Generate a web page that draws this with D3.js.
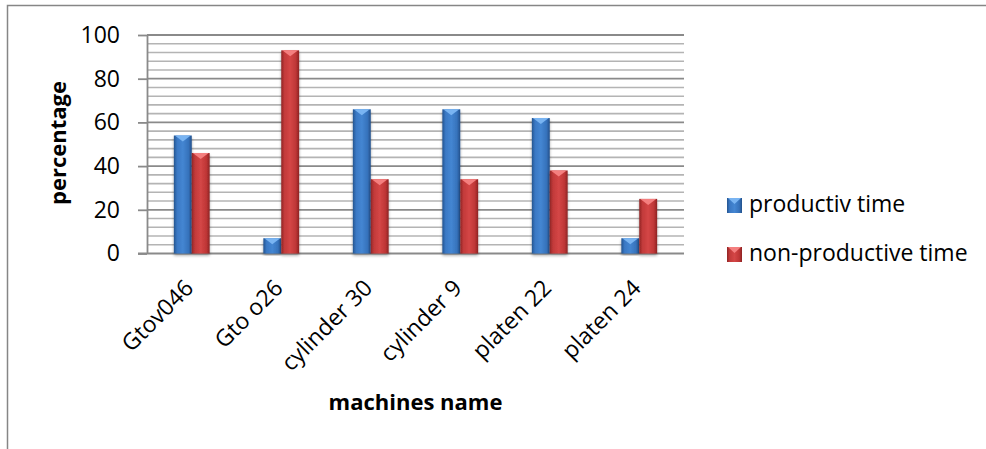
<!DOCTYPE html>
<html>
<head>
<meta charset="utf-8">
<script src="https://cdnjs.cloudflare.com/ajax/libs/d3/7.8.5/d3.min.js"></script>
<style>
  html, body { margin: 0; padding: 0; background: #fff; }
  svg { display: block; font-family: "Open Sans", "DejaVu Sans", sans-serif; }
</style>
</head>
<body>
<svg id="chart" width="986" height="449"></svg>
<script>
// Machine names along the x axis
const categories = ["Gtov046", "Gto o26", "cylinder 30", "cylinder 9", "platen 22", "platen 24"];
// Share of time per machine, in percent
const productiveTime = [54, 7, 66, 66, 62, 7];
const nonProductiveTime = [46, 93, 34, 34, 38, 25];
const seriesNames = ["productiv time", "non-productive time"];
const yTicks = [0, 20, 40, 60, 80, 100];

const svg = d3.select("#chart");
const W = 986, H = 449;
const plot = { left: 147, right: 684, top: 35, bottom: 253.5 };
const FONT = 23;      // tick, category and legend text
const TITLE_FONT = 22; // bold axis titles

// Gradients for the bevelled bar look
const defs = svg.append("defs");
const palettes = [
  { id: "blueBar", stops: ["#24548f", "#3a78c4", "#4486d2", "#3672bb", "#22508a"], cap: "#79b4f2" },
  { id: "redBar", stops: ["#902424", "#c23a3a", "#d44646", "#be3636", "#8c2222"], cap: "#f47f7f" }
];
palettes.forEach(p => {
  const g = defs.append("linearGradient").attr("id", p.id).attr("x1", 0).attr("x2", 1).attr("y1", 0).attr("y2", 0);
  const offs = [0, 0.18, 0.5, 0.82, 1];
  p.stops.forEach((c, i) => g.append("stop").attr("offset", offs[i]).attr("stop-color", c));
});
const shadow = defs.append("filter").attr("id", "barShadow").attr("x", "-20%").attr("y", "-5%").attr("width", "140%").attr("height", "115%");
shadow.append("feGaussianBlur").attr("in", "SourceAlpha").attr("stdDeviation", 1.6).attr("result", "b");
shadow.append("feOffset").attr("in", "b").attr("dx", 0).attr("dy", 2).attr("result", "o");
shadow.append("feComponentTransfer").attr("in", "o").attr("result", "s")
  .append("feFuncA").attr("type", "linear").attr("slope", 0.35);
const merge = shadow.append("feMerge");
merge.append("feMergeNode").attr("in", "s");
merge.append("feMergeNode").attr("in", "SourceGraphic");

// Outer chart frame (top and left edges)
svg.append("path")
  .attr("d", `M7.5,${H} V5.5 H${W}`)
  .attr("fill", "none").attr("stroke", "#868686").attr("stroke-width", 1.5);

// Scales
const x0 = d3.scaleBand().domain(categories).range([plot.left, plot.right]).paddingInner(0.6).paddingOuter(0.3);
const x1 = d3.scaleBand().domain([0, 1]).range([0, x0.bandwidth()]);
const y = d3.scaleLinear().domain([0, 100]).range([plot.bottom, plot.top]);

// Minor gridlines every 4 units
const minor = d3.range(4, 100, 4).filter(v => v % 20 !== 0);
svg.append("g").selectAll("line").data(minor).join("line")
  .attr("x1", plot.left).attr("x2", plot.right)
  .attr("y1", d => y(d)).attr("y2", d => y(d))
  .attr("stroke", "#b4b4b4").attr("stroke-width", 1.6);

// Major gridlines
svg.append("g").selectAll("line").data(yTicks.filter(v => v > 0)).join("line")
  .attr("x1", plot.left).attr("x2", plot.right)
  .attr("y1", d => y(d)).attr("y2", d => y(d))
  .attr("stroke", "#8a8a8a").attr("stroke-width", 1.8);

// Y axis
const yAxis = svg.append("g").attr("transform", `translate(${plot.left},0)`)
  .call(d3.axisLeft(y).tickValues(yTicks).tickSize(9).tickSizeOuter(0).tickPadding(18));
yAxis.select(".domain").attr("stroke", "#8a8a8a").attr("stroke-width", 1.8);
yAxis.selectAll(".tick line").attr("stroke", "#8a8a8a").attr("stroke-width", 1.8);
yAxis.selectAll(".tick text").attr("font-size", FONT).attr("fill", "#000")
  .attr("font-family", "'Open Sans', sans-serif");

// X axis baseline
svg.append("line")
  .attr("x1", plot.left - 9).attr("x2", plot.right)
  .attr("y1", plot.bottom).attr("y2", plot.bottom)
  .attr("stroke", "#8a8a8a").attr("stroke-width", 1.8);

// Bars
const rows = categories.map((c, i) => ({ c, vals: [productiveTime[i], nonProductiveTime[i]] }));
const groups = svg.append("g").selectAll("g").data(rows).join("g")
  .attr("transform", d => `translate(${x0(d.c)},0)`);

const bars = groups.selectAll("g.bar").data(d => d.vals.map((v, k) => ({ v, k }))).join("g")
  .attr("class", "bar").attr("filter", "url(#barShadow)");

bars.append("rect")
  .attr("x", d => x1(d.k)).attr("width", x1.bandwidth())
  .attr("y", d => y(d.v)).attr("height", d => y(0) - y(d.v))
  .attr("fill", d => `url(#${palettes[d.k].id})`);

// Light bevel cap at the top of each bar
bars.append("path")
  .attr("d", d => {
    const xl = x1(d.k), w = x1.bandwidth(), t = y(d.v), h = Math.min(6, y(0) - y(d.v));
    return `M${xl + 1},${t} H${xl + w - 1} L${xl + w / 2},${t + h} Z`;
  })
  .attr("fill", d => palettes[d.k].cap);

// Category labels rotated 45 degrees
svg.append("g").selectAll("text").data(categories).join("text")
  .attr("transform", d => `translate(${x0(d) + x0.bandwidth() / 2 + 3},${plot.bottom + 36}) rotate(-45)`)
  .attr("text-anchor", "end")
  .attr("font-size", FONT).attr("fill", "#000")
  .text(d => d);

// Axis titles
svg.append("text")
  .attr("transform", `translate(66,143) rotate(-90)`)
  .attr("text-anchor", "middle")
  .attr("font-size", TITLE_FONT).attr("font-weight", "bold").attr("fill", "#000")
  .text("percentage");

svg.append("text")
  .attr("x", (plot.left + plot.right) / 2).attr("y", 410)
  .attr("text-anchor", "middle")
  .attr("font-size", TITLE_FONT).attr("font-weight", "bold").attr("fill", "#000")
  .text("machines name");

// Legend
const legend = svg.append("g").attr("transform", "translate(727,198)");
const items = legend.selectAll("g").data(seriesNames).join("g")
  .attr("transform", (d, i) => `translate(0,${i * 49})`);
items.append("rect").attr("width", 15).attr("height", 15)
  .attr("fill", (d, i) => `url(#${palettes[i].id})`);
items.append("path").attr("d", "M1,0 H14 L7.5,6 Z")
  .attr("fill", (d, i) => palettes[i].cap);
items.append("text").attr("x", 22).attr("y", 14)
  .attr("font-size", FONT).attr("fill", "#000")
  .text(d => d);
</script>
</body>
</html>
